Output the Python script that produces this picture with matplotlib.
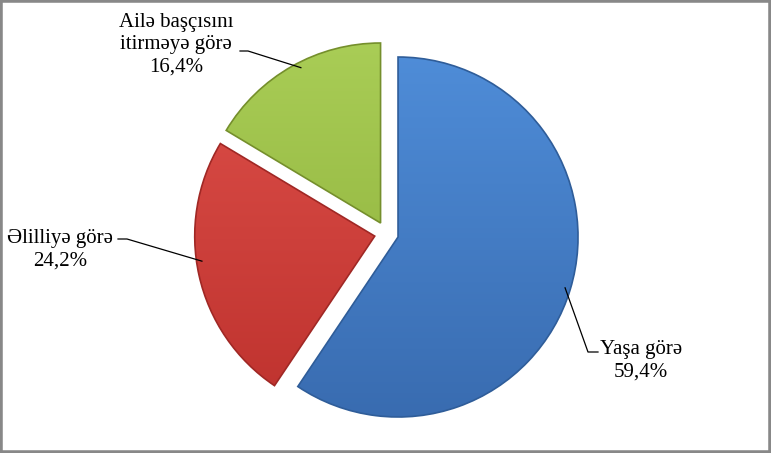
import matplotlib.pyplot as plt
import matplotlib.colors as mcolors
from matplotlib.patches import Rectangle, Wedge
import numpy as np

plt.rcParams['font.family'] = ['Liberation Serif', 'DejaVu Serif']

names = ['Yaşa görə', 'Əlilliyə görə', 'Ailə başçısını\nitirməyə görə']
shares = [59.4, 24.2, 16.4]
colors_top = ['#5190dc', '#e0524c', '#abcf58']
colors_bot = ['#3769ad', '#bb2f2b', '#88aa35']
edge_cols = ['#2f5d99', '#a02825', '#758f2c']

W, H = 771, 453
cx, cy, R = 386.5, 233.5, 180.0


def px(x, y):
    # pixel position in the picture -> data units of the pie
    return (x - cx) / R, (cy - y) / R


fig = plt.figure(figsize=(W / 100, H / 100), dpi=100)
ax = fig.add_axes([0, 0, 1, 1])
ax.axis('off')

wedges, _ = ax.pie(shares, startangle=90, counterclock=False,
                   explode=[0.067] * 3, radius=1.0,
                   colors=colors_top,
                   wedgeprops=dict(edgecolor='none', linewidth=0))

# vertical gradient inside each slice, for the shaded look
for w, ct, cb, ec in zip(wedges, colors_top, colors_bot, edge_cols):
    cmap = mcolors.LinearSegmentedColormap.from_list('g', [cb, ct])
    grad = np.linspace(0, 1, 256).reshape(-1, 1)
    im = ax.imshow(grad, cmap=cmap, origin='lower', aspect='auto',
                   extent=[-1.2, 1.2, -1.2, 1.2], zorder=2)
    im.set_clip_path(w)
    w.set_zorder(1)
    ax.add_patch(Wedge(w.center, w.r, w.theta1, w.theta2, facecolor='none',
                       edgecolor=ec, linewidth=1.2, zorder=3))

ax.set_xlim(-cx / R, (W - cx) / R)
ax.set_ylim(-(H - cy) / R, cy / R)

# labels: text centre, stub start, stub end (pixels), where along the arc the line ends
label_pos = [(641, 361), (60, 250), (176, 45)]
stubs = [((598, 352), (588, 352)), ((118, 239), (127, 239)), ((240, 51), (248, 51))]
arc_frac = [0.5, 0.45, 0.46]

for w, name, val, tp, (s0, s1), f in zip(wedges, names, shares, label_pos, stubs, arc_frac):
    ang = np.deg2rad(w.theta1 + f * (w.theta2 - w.theta1))
    ox, oy = w.center
    anchor = (ox + 0.97 * w.r * np.cos(ang), oy + 0.97 * w.r * np.sin(ang))
    a = px(*s0)
    b = px(*s1)
    ax.plot([a[0], b[0], anchor[0]], [a[1], b[1], anchor[1]],
            color='black', linewidth=0.9, zorder=4)
    tx, ty = px(*tp)
    ax.text(tx, ty, name + '\n' + ('%.1f' % val).replace('.', ',') + '%',
            ha='center', va='center', multialignment='center',
            fontsize=15, linespacing=1.25, color='black')

fig.add_artist(Rectangle((0, 0), 1, 1, transform=fig.transFigure,
                         fill=False, edgecolor='#888888', linewidth=4))

fig.savefig('out.png', dpi=100)
